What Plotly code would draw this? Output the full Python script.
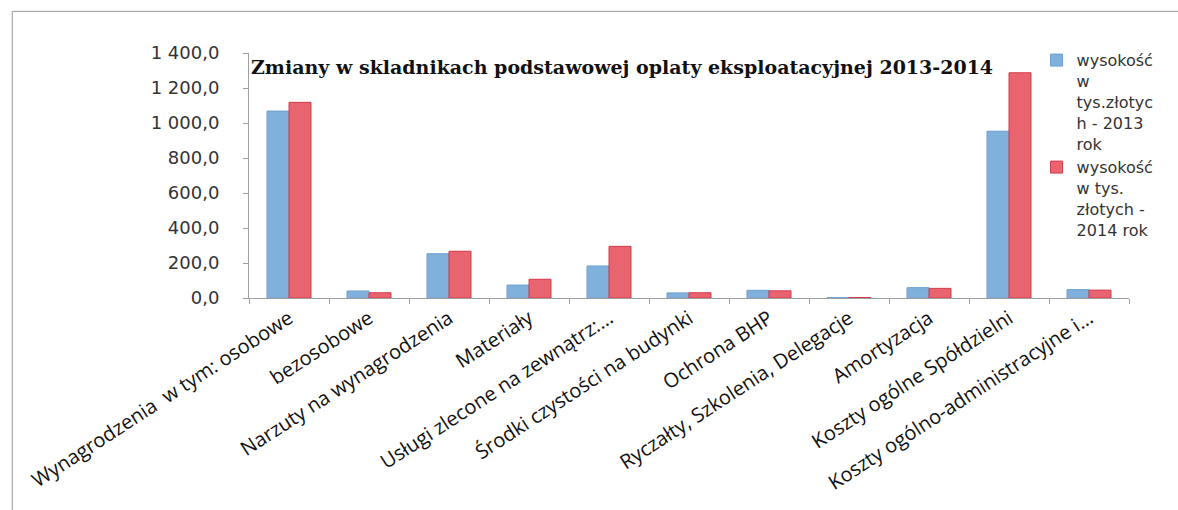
import plotly.graph_objects as go

categories = [
    "Wynagrodzenia  w tym: osobowe",
    "bezosobowe",
    "Narzuty na wynagrodzenia",
    "Materiały",
    "Usługi zlecone na zewnątrz:…",
    "Środki czystości na budynki",
    "Ochrona BHP",
    "Ryczałty, Szkolenia, Delegacje",
    "Amortyzacja",
    "Koszty ogólne Spółdzielni",
    "Koszty ogólno-administracyjne i…",
]
values_2013 = [1068, 40, 253, 74, 183, 29, 44, 2, 59, 953, 48]
values_2014 = [1118, 30, 267, 107, 295, 30, 41, 3, 55, 1287, 45]
name_2013 = "wysokość<br>w<br>tys.złotyc<br>h - 2013<br>rok"
name_2014 = "wysokość<br>w tys.<br>złotych -<br>2014 rok"
y_ticks = [0, 200, 400, 600, 800, 1000, 1200, 1400]
y_tick_labels = ["0,0", "200,0", "400,0", "600,0", "800,0", "1 000,0", "1 200,0", "1 400,0"]
title_text = "Zmiany w skladnikach podstawowej oplaty eksploatacyjnej 2013-2014"

fig = go.Figure()
fig.add_trace(go.Bar(x=categories, y=values_2013, name=name_2013,
                     marker=dict(color="#80b1dd", line=dict(color="#6a9fd2", width=1))))
fig.add_trace(go.Bar(x=categories, y=values_2014, name=name_2014,
                     marker=dict(color="#e8646f", line=dict(color="#d23a4a", width=1))))

fig.update_layout(
    width=1178, height=510,
    margin=dict(l=249, r=49, t=53, b=212, autoexpand=False),
    paper_bgcolor="white", plot_bgcolor="white",
    barmode="group", bargap=0.45, bargroupgap=0,
    showlegend=True,
    legend=dict(x=0.895, y=1.04, xanchor="left", yanchor="top", valign="top",
                font=dict(family="DejaVu Sans", size=16, color="#333333"),
                tracegroupgap=12, itemwidth=30, bgcolor="rgba(0,0,0,0)"),
    font=dict(family="DejaVu Sans", color="#333333"),
)
fig.update_yaxes(range=[0, 1400], tickvals=y_ticks, ticktext=y_tick_labels,
                 showgrid=False, zeroline=False, showline=True, linecolor="#a0a0a0",
                 ticks="outside", ticklen=5, tickcolor="#a0a0a0",
                 ticklabelstandoff=20, automargin=False,
                 tickfont=dict(family="DejaVu Sans", size=18, color="#333333"))
fig.update_xaxes(tickangle=-33, showgrid=False, showline=True, linecolor="#a0a0a0",
                 ticks="outside", ticklen=5, tickcolor="#a0a0a0", tickson="boundaries",
                 automargin=False,
                 tickfont=dict(family="Open Sans", size=20, color="#111111"))

fig.add_annotation(text="<b>" + title_text + "</b>", xref="paper", yref="paper",
                   x=0.0, y=0.943, xanchor="left", yanchor="middle", showarrow=False,
                   font=dict(family="DejaVu Serif", size=19, color="#111111"))

# chart frame (top and left edges)
fig.add_shape(type="line", xref="paper", yref="paper", x0=-0.269, x1=1.1,
              y0=1.17, y1=1.17, line=dict(color="#999999", width=1))
fig.add_shape(type="line", xref="paper", yref="paper", x0=-0.269, x1=-0.269,
              y0=1.17, y1=-0.87, line=dict(color="#999999", width=1))

fig.write_html("out.html")
